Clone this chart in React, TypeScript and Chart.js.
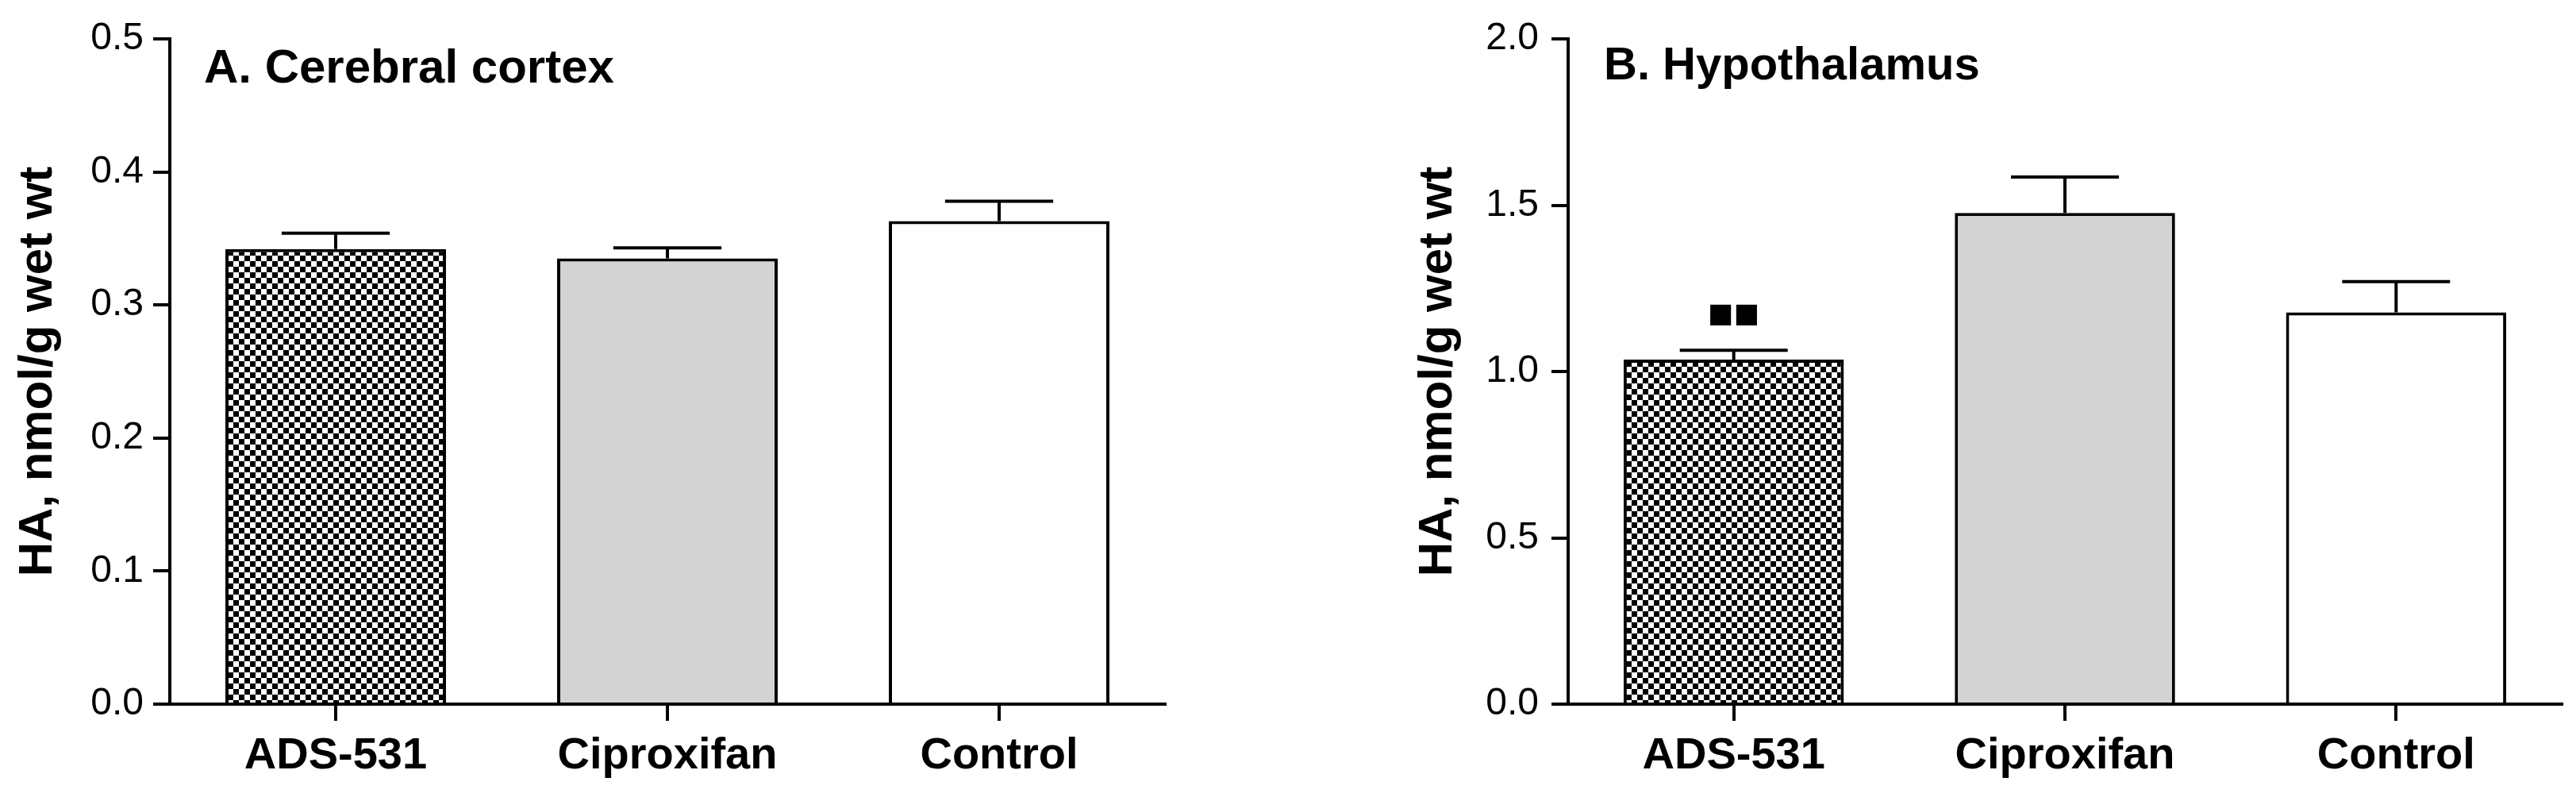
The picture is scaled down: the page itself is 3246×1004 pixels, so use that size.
import React, { useEffect, useRef } from "react";
import { Chart, registerables } from "chart.js";

Chart.register(...registerables);

// ---- data ----
const categories = ["ADS-531", "Ciproxifan", "Control"];

const cortexValues = [0.342, 0.335, 0.363];
const cortexErrors = [0.012, 0.008, 0.015];
const cortexTicks = ["0.0", "0.1", "0.2", "0.3", "0.4", "0.5"];
const cortexMarkers = ["", "", ""];

const hypoValues = [1.036, 1.477, 1.178];
const hypoErrors = [0.028, 0.108, 0.092];
const hypoTicks = ["0.0", "0.5", "1.0", "1.5", "2.0"];
const hypoMarkers = ["■■", "", ""];

const yTitle = "HA, nmol/g wet wt";
const FONT = "'Liberation Sans', Arial, Helvetica, sans-serif";

function makeChecker(): CanvasPattern | string {
  const c = document.createElement("canvas");
  c.width = 14;
  c.height = 14;
  const g = c.getContext("2d");
  if (!g) return "#777";
  g.fillStyle = "#fff";
  g.fillRect(0, 0, 14, 14);
  g.fillStyle = "#000";
  g.fillRect(0, 0, 7, 7);
  g.fillRect(7, 7, 7, 7);
  const ctx = document.createElement("canvas").getContext("2d");
  return ctx ? (ctx.createPattern(c, "repeat") as CanvasPattern) : "#777";
}

type PanelProps = {
  values: number[];
  errors: number[];
  ticks: string[];
  markers: string[];
  max: number;
  step: number;
  title: string;
  titleSize: number;
  titleDy: number;
  titleDx: number;
  width: number;
  padRight: number;
  titlePad: number;
  labelPad: number;
  left: number;
};

function Panel(p: PanelProps) {
  const ref = useRef<HTMLCanvasElement | null>(null);
  useEffect(() => {
    if (!ref.current) return;
    const pattern = makeChecker();
    const overlay = {
      id: "overlay",
      afterDatasetsDraw(chart: any) {
        const ctx = chart.ctx as CanvasRenderingContext2D;
        const meta = chart.getDatasetMeta(0);
        const ys = chart.scales.y;
        ctx.save();
        ctx.strokeStyle = "#000";
        ctx.fillStyle = "#000";
        ctx.lineWidth = 4;
        meta.data.forEach((bar: any, i: number) => {
          const v = p.values[i];
          const e = p.errors[i];
          const x = bar.x;
          const w = bar.width;
          const yTop = ys.getPixelForValue(v);
          const yErr = ys.getPixelForValue(v + e);
          ctx.beginPath();
          ctx.moveTo(x, yTop);
          ctx.lineTo(x, yErr);
          ctx.moveTo(x - w * 0.245, yErr);
          ctx.lineTo(x + w * 0.245, yErr);
          ctx.stroke();
          if (p.markers[i]) {
            ctx.font = `54px ${FONT}`;
            ctx.textAlign = "center";
            ctx.textBaseline = "alphabetic";
            ctx.fillText(p.markers[i], x, yErr - 28);
          }
        });
        const area = chart.chartArea;
        ctx.font = `bold ${p.titleSize}px ${FONT}`;
        ctx.textAlign = "left";
        ctx.textBaseline = "alphabetic";
        ctx.fillText(p.title, area.left + p.titleDx, area.top + p.titleDy);
        ctx.restore();
      },
    };
    const chart = new Chart(ref.current, {
      type: "bar",
      data: {
        labels: categories,
        datasets: [
          {
            data: p.values,
            backgroundColor: [pattern as any, "#d3d3d3", "#ffffff"],
            borderColor: "#000",
            borderWidth: 4,
            barPercentage: 0.665,
            categoryPercentage: 1,
          },
        ],
      },
      options: {
        responsive: false,
        animation: false,
        devicePixelRatio: 1,
        layout: { padding: { left: 0, right: p.padRight, top: 49, bottom: 0 } },
        plugins: { legend: { display: false }, tooltip: { enabled: false } },
        scales: {
          x: {
            grid: {
              display: true,
              drawOnChartArea: false,
              drawTicks: true,
              tickLength: 21,
              tickWidth: 4,
              lineWidth: 4,
              tickColor: "#000",
              color: "#000",
              offset: false,
            },
            border: { display: true, color: "#000", width: 4 },
            ticks: {
              color: "#000",
              font: { family: FONT, size: 56, weight: "bold" },
              padding: 11,
              maxRotation: 0,
              autoSkip: false,
            },
            afterFit: (s: any) => {
              s.height = 1004 - 887;
            },
          },
          y: {
            min: 0,
            max: p.max,
            ticks: {
              stepSize: p.step,
              color: "#000",
              font: { family: FONT, size: 48 },
              padding: p.labelPad,
              callback: (_v: any, i: number) => p.ticks[i],
            },
            grid: {
              drawOnChartArea: false,
              drawTicks: true,
              tickLength: 21,
              tickWidth: 4,
              lineWidth: 4,
              tickColor: "#000",
              color: "#000",
            },
            border: { display: true, color: "#000", width: 4 },
            title: {
              display: true,
              text: yTitle,
              color: "#000",
              font: { family: FONT, size: 60, weight: "bold" },
              padding: { top: p.titlePad, bottom: 0 },
            },
            afterFit: (s: any) => {
              s.width = 214;
            },
          },
        },
      },
      plugins: [overlay],
    } as any);
    return () => chart.destroy();
  }, []);
  return (
    <canvas
      ref={ref}
      width={p.width}
      height={1004}
      style={{ position: "absolute", left: p.left, top: 0, width: p.width, height: 1004 }}
    />
  );
}

export default function App() {
  return (
    <div
      style={{
        position: "absolute",
        left: 0,
        top: 0,
        width: 3246,
        height: 1004,
        background: "#fff",
        overflow: "hidden",
      }}
    >
      <Panel
        values={cortexValues}
        errors={cortexErrors}
        ticks={cortexTicks}
        markers={cortexMarkers}
        max={0.5}
        step={0.1}
        title="A. Cerebral cortex"
        titleSize={60}
        titleDy={55}
        titleDx={43}
        width={1762}
        padRight={294}
        titlePad={12}
        labelPad={12}
        left={0}
      />
      <Panel
        values={hypoValues}
        errors={hypoErrors}
        ticks={hypoTicks}
        markers={hypoMarkers}
        max={2.0}
        step={0.5}
        title="B. Hypothalamus"
        titleSize={58}
        titleDy={51}
        titleDx={45}
        width={1484}
        padRight={18}
        titlePad={14}
        labelPad={16}
        left={1762}
      />
    </div>
  );
}
